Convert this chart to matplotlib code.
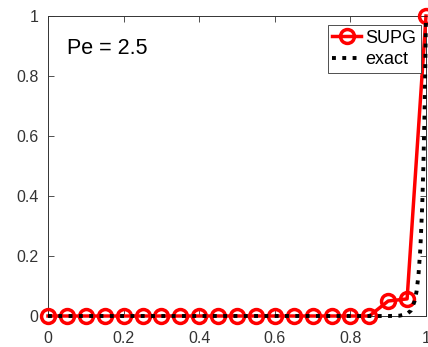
import matplotlib.pyplot as plt
import numpy as np

plt.rcParams['font.family'] = ['Liberation Sans', 'DejaVu Sans']

# SUPG nodal solution, h = 0.05
x_supg = [0.00, 0.05, 0.10, 0.15, 0.20, 0.25, 0.30, 0.35, 0.40, 0.45, 0.50,
          0.55, 0.60, 0.65, 0.70, 0.75, 0.80, 0.85, 0.90, 0.95, 1.00]
u_supg = [0.0, 0.0, 0.0, 0.0, 0.0, 0.0, 0.0, 0.0, 0.0, 0.0, 0.0,
          0.0, 0.0, 0.0, 0.0, 0.0, 0.0, 0.0, 0.05, 0.057, 1.0]

# exact solution, sampled
x_exact = [0.00, 0.50, 0.90, 0.93, 0.95, 0.96, 0.97, 0.975, 0.98, 0.985,
           0.99, 0.993, 0.996, 0.998, 1.00]
u_exact = [0.0, 0.0, 0.0, 0.001, 0.007, 0.018, 0.05, 0.082, 0.135, 0.223,
           0.368, 0.497, 0.670, 0.819, 1.0]

xticks = [0, 0.2, 0.4, 0.6, 0.8, 1]
yticks = [0, 0.2, 0.4, 0.6, 0.8, 1]

fig = plt.figure(figsize=(4.28, 3.47), dpi=100)
ax = fig.add_axes([48 / 428, 31 / 347, 378 / 428, 300 / 347])

ax.plot(x_supg, u_supg, '-o', color='#ff0000', lw=2.5, ms=10,
        mfc='none', mew=2.5, label='SUPG', clip_on=False, zorder=3)
ax.plot(x_exact, u_exact, ':', color='black', lw=2.8, label='exact',
        clip_on=False, zorder=4)

ax.set_xlim(0, 1)
ax.set_ylim(0, 1)
ax.set_xticks(xticks)
ax.set_yticks(yticks)
ax.set_xticklabels(['0', '0.2', '0.4', '0.6', '0.8', '1'])
ax.set_yticklabels(['0', '0.2', '0.4', '0.6', '0.8', '1'])
ax.tick_params(direction='in', top=True, right=True, length=4, width=0.6,
               labelsize=11.5, colors='#333333')
ax.tick_params(axis='x', pad=11)
ax.tick_params(axis='y', pad=7)
for s in ax.spines.values():
    s.set_linewidth(0.7)
    s.set_color('#333333')

ax.text(0.05, 0.893, 'Pe = 2.5', transform=ax.transAxes, fontsize=15.5,
        va='center', ha='left')

leg = ax.legend(loc='upper right', bbox_to_anchor=(0.987, 0.97), fontsize=13,
                fancybox=False, framealpha=1, edgecolor='#333333',
                handlelength=1.6, handletextpad=0.25, borderpad=0.25,
                labelspacing=0.25, borderaxespad=0)
leg.get_frame().set_linewidth(0.6)

fig.savefig('out.png', dpi=100)
